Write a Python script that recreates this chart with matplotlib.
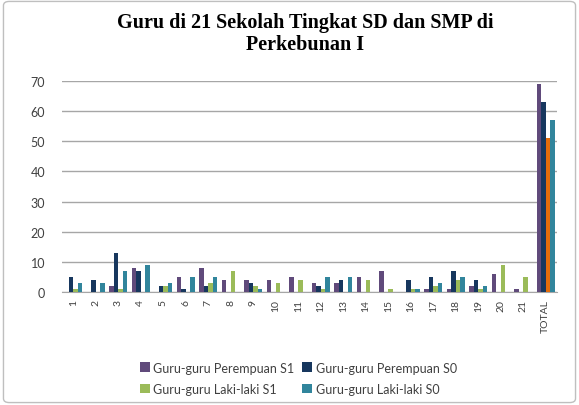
import matplotlib
matplotlib.use("Agg")
import matplotlib.pyplot as plt
import numpy as np
from matplotlib.patches import FancyBboxPatch

categories = [str(i) for i in range(1, 22)] + ["TOTAL"]
perempuan_s1 = [0, 0, 2, 8, 0, 5, 8, 4, 4, 4, 5, 3, 3, 5, 7, 0, 1, 1, 2, 6, 1, 69]
perempuan_s0 = [5, 4, 13, 7, 2, 1, 2, 0, 3, 0, 0, 2, 4, 0, 0, 4, 5, 7, 4, 0, 0, 63]
laki_s1 = [1, 0, 1, 0, 2, 0, 3, 7, 2, 3, 4, 1, 0, 4, 1, 1, 2, 4, 1, 9, 5, 51]
laki_s0 = [3, 3, 7, 9, 3, 5, 5, 0, 1, 0, 0, 5, 5, 0, 0, 1, 3, 5, 2, 0, 0, 57]
series_names = ["Guru-guru Perempuan S1", "Guru-guru Perempuan S0",
                "Guru-guru Laki-laki S1", "Guru-guru Laki-laki S0"]
colors = ["#604A7B", "#17375E", "#9BBB59", "#31859C"]
total_l_s1_color = "#E46C0A"

fig = plt.figure(figsize=(5.79, 4.06), dpi=100)
fig.patch.set_facecolor("white")
border = FancyBboxPatch((0.006, 0.006), 0.988, 0.988, boxstyle="round,pad=0,rounding_size=0.01",
                        transform=fig.transFigure, facecolor="none", edgecolor="#BFBFBF", lw=1.0)
fig.patches.append(border)

ax = fig.add_axes([0.107, 0.278, 0.855, 0.52])
x = np.arange(len(categories))
w = 0.2
data = [perempuan_s1, perempuan_s0, laki_s1, laki_s0]
handles = []
for i, (vals, name, c) in enumerate(zip(data, series_names, colors)):
    cols = [c] * len(vals)
    if i == 2:
        cols[-1] = total_l_s1_color
    b = ax.bar(x + (i - 1.5) * w, vals, width=w, color=cols, label=name, zorder=3)
    handles.append(b)

ax.set_xlim(-0.5, len(categories) - 0.5)
ax.set_ylim(0, 70)
ax.set_yticks(range(0, 71, 10))
ax.yaxis.grid(True, color="#A6A6A6", lw=1.0, zorder=0)
for s in ["top", "right", "left"]:
    ax.spines[s].set_visible(False)
ax.spines["bottom"].set_color("#A6A6A6")
ax.set_xticks(x)
ax.set_xticklabels(categories, rotation=90, fontsize=7.5, color="#404040", family="Lato")
ax.tick_params(axis="y", labelsize=9, colors="#404040", length=0, pad=12)
ax.tick_params(axis="x", length=0, pad=5)
for lab in ax.get_yticklabels():
    lab.set_family("Lato")

fig.text(0.527, 0.968, "Guru di 21 Sekolah Tingkat SD dan SMP di\nPerkebunan I",
         ha="center", va="top", fontsize=14.5, fontweight="bold", family="Liberation Serif",
         linespacing=1.15)

# row-wise legend order: P S1, P S0 / L S1, L S0 (matplotlib fills columns first)
order = [0, 2, 1, 3]
leg = fig.legend([handles[k] for k in order], [series_names[k] for k in order],
                 loc="center", bbox_to_anchor=(0.515, 0.066), ncol=2,
                 frameon=False, handlelength=0.8, handleheight=0.8,
                 columnspacing=0.6, handletextpad=0.3, labelspacing=0.75,
                 prop={"family": "Lato", "size": 9})
for t in leg.get_texts():
    t.set_color("#404040")

fig.savefig("out.png", dpi=100)
